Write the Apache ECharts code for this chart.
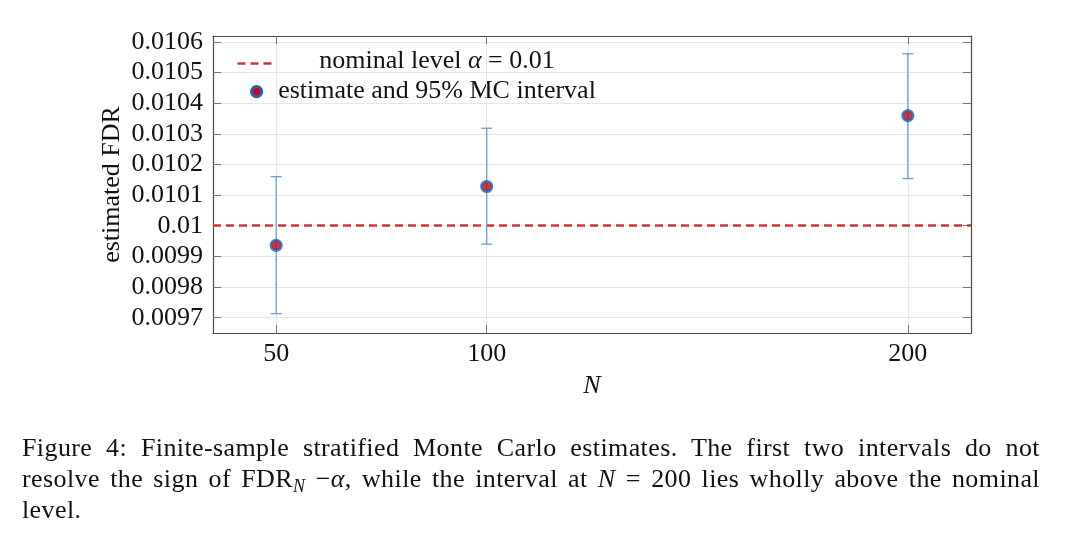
<!DOCTYPE html>
<html>
<head>
<meta charset="utf-8">
<script src="https://cdn.jsdelivr.net/npm/echarts@6/dist/echarts.min.js"></script>
<style>
  html, body { margin: 0; padding: 0; background: #fff; }
  #chart { position: absolute; left: 0; top: 0; width: 1080px; height: 546px; }
  #caption { position: absolute; left: 22px; top: 432px; width: 1018px;
    font-family: "Liberation Serif", "DejaVu Serif", serif; font-size: 26px; line-height: 31px; color: #111; letter-spacing: 0.4px; }
  #caption .j { text-align: justify; text-align-last: justify; white-space: nowrap; }
  #caption sub { font-size: 18px; vertical-align: -5px; line-height: 0; }
</style>
</head>
<body>
<div id="chart"></div>
<div id="caption">
  <div class="j">Figure 4: Finite-sample stratified Monte Carlo estimates. The first two intervals do not</div>
  <div class="j">resolve the sign of FDR<sub><i>N</i></sub> −<i>α</i>, while the interval at <i>N</i> = 200 lies wholly above the nominal</div>
  <div>level.</div>
</div>
<script>
// ---- data ----
const N = [50, 100, 200];
const estimate = [0.009936, 0.010128, 0.010359];
const lower = [0.009713, 0.009940, 0.010154];
const upper = [0.010160, 0.010318, 0.010561];
const nominal = 0.01;
const yTicks = [0.0097, 0.0098, 0.0099, 0.0100, 0.0101, 0.0102, 0.0103, 0.0104, 0.0105, 0.0106];
const xTicks = [50, 100, 200];
const legendLabels = ['nominal level ', 'α', ' = 0.01', 'estimate and 95% MC interval'];

const FONT = '"Liberation Serif", "DejaVu Serif", serif';
const FS = 26;
const RED_DASH = '#c83737';
const BLUE_OUT = '#2c5fa8';
const RED_IN = '#d40000';
const BAR = '#6c9dd2';

const chart = echarts.init(document.getElementById('chart'), null, { renderer: 'canvas' });

const axisLineStyle = { color: '#4a4a4a', width: 1.2 };
const tickStyle = { show: true, inside: true, length: 8, lineStyle: { color: '#777', width: 1 } };
const splitStyle = { show: true, lineStyle: { color: '#e6e6e6', width: 1 } };
const fmtY = v => String(+(+v).toFixed(5));

const option = {
  animation: false,
  grid: { left: 213, top: 36, right: 109, bottom: 213, containLabel: false },
  xAxis: [
    {
      type: 'value', min: 35, max: 215, position: 'bottom',
      name: 'N', nameLocation: 'middle', nameGap: 40, nameMoveOverlap: false,
      nameTextStyle: { fontFamily: FONT, fontSize: FS, fontStyle: 'italic', color: '#111' },
      axisLine: { show: true, onZero: false, lineStyle: axisLineStyle },
      axisTick: Object.assign({}, tickStyle, { customValues: xTicks }),
      axisLabel: { customValues: xTicks, fontFamily: FONT, fontSize: FS, color: '#111', margin: 8 },
      splitLine: splitStyle
    },
    {
      type: 'value', min: 35, max: 215, position: 'top',
      axisLine: { show: true, onZero: false, lineStyle: axisLineStyle },
      axisTick: Object.assign({}, tickStyle, { customValues: xTicks }),
      axisLabel: { show: false, customValues: xTicks },
      splitLine: { show: false }
    }
  ],
  yAxis: [
    {
      type: 'value', min: 0.00965, max: 0.010619, position: 'left',
      name: 'estimated FDR', nameLocation: 'middle', nameGap: 88, nameMoveOverlap: false,
      nameTextStyle: { fontFamily: FONT, fontSize: FS, color: '#111' },
      axisLine: { show: true, onZero: false, lineStyle: axisLineStyle },
      axisTick: Object.assign({}, tickStyle, { customValues: yTicks }),
      axisLabel: { customValues: yTicks, formatter: fmtY, fontFamily: FONT, fontSize: FS, color: '#111', margin: 10 },
      splitLine: splitStyle
    },
    {
      type: 'value', min: 0.00965, max: 0.010619, position: 'right',
      axisLine: { show: true, onZero: false, lineStyle: axisLineStyle },
      axisTick: Object.assign({}, tickStyle, { customValues: yTicks }),
      axisLabel: { show: false, customValues: yTicks },
      splitLine: { show: false }
    }
  ],
  series: [
    {
      type: 'custom',
      name: 'interval',
      xAxisIndex: 0, yAxisIndex: 0,
      data: N.map((n, i) => [n, lower[i], upper[i]]),
      encode: { x: 0, y: [1, 2] },
      z: 3,
      renderItem: function (params, api) {
        const x = api.value(0);
        const pLo = api.coord([x, api.value(1)]);
        const pHi = api.coord([x, api.value(2)]);
        const w = 5.5;
        const style = { stroke: BAR, lineWidth: 1.3 };
        return {
          type: 'group',
          children: [
            { type: 'line', shape: { x1: pLo[0], y1: pLo[1], x2: pHi[0], y2: pHi[1] }, style: style },
            { type: 'line', shape: { x1: pLo[0] - w, y1: pLo[1], x2: pLo[0] + w, y2: pLo[1] }, style: style },
            { type: 'line', shape: { x1: pHi[0] - w, y1: pHi[1], x2: pHi[0] + w, y2: pHi[1] }, style: style }
          ]
        };
      }
    },
    {
      type: 'scatter',
      name: 'estimate',
      xAxisIndex: 0, yAxisIndex: 0,
      data: N.map((n, i) => [n, estimate[i]]),
      symbol: 'circle',
      symbolSize: 10,
      z: 5,
      itemStyle: { color: RED_IN, borderColor: BLUE_OUT, borderWidth: 3.2 },
      markLine: {
        silent: true,
        symbol: ['none', 'none'],
        label: { show: false },
        lineStyle: { color: RED_DASH, width: 2.6, type: [8, 5] },
        data: [{ yAxis: nominal }],
        z: 2
      }
    }
  ],
  graphic: [
    {
      type: 'line', left: 235, top: 61,
      shape: { x1: 0, y1: 0, x2: 38, y2: 0 },
      style: { stroke: RED_DASH, lineWidth: 2.6, lineDash: [8, 5] }
    },
    {
      type: 'circle', left: 250, top: 85,
      shape: { r: 5 },
      style: { fill: RED_IN, stroke: BLUE_OUT, lineWidth: 3.2 }
    },
    {
      type: 'text', x: 437, y: 61,
      style: {
        text: '{t|' + legendLabels[0] + '}{i|' + legendLabels[1] + '}{t|' + legendLabels[2] + '}',
        align: 'center', verticalAlign: 'middle',
        rich: {
          t: { fontFamily: FONT, fontSize: FS, fill: '#111' },
          i: { fontFamily: FONT, fontSize: FS, fontStyle: 'italic', fill: '#111' }
        }
      }
    },
    {
      type: 'text', x: 437, y: 91,
      style: {
        text: legendLabels[3], align: 'center', verticalAlign: 'middle',
        fontFamily: FONT, fontSize: FS, fill: '#111'
      }
    }
  ]
};

chart.setOption(option);
</script>
</body>
</html>
